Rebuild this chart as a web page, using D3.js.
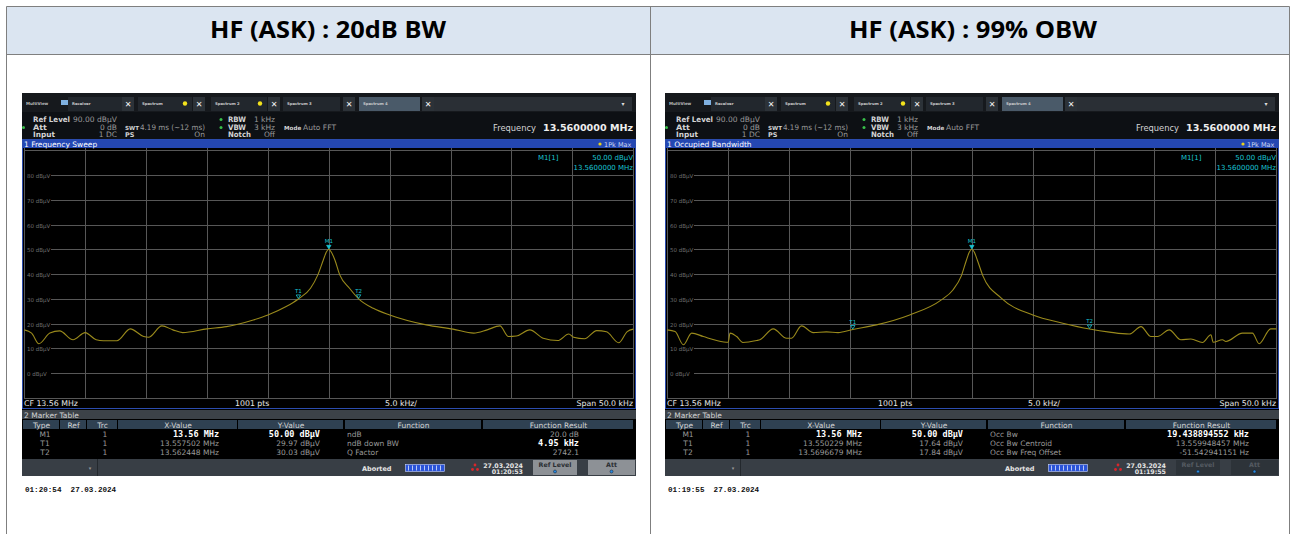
<!DOCTYPE html>
<html>
<head>
<meta charset="utf-8">
<script src="https://cdn.jsdelivr.net/npm/d3@7"></script>
<style>
  body { margin: 0; background: #fff; }
  svg { display: block; }
</style>
</head>
<body>
<div id="chart"></div>
<script>
// ---- data ----
var panelTitles = ["HF (ASK) : 20dB BW", "HF (ASK) : 99% OBW"];
var sweepTitles = ["1 Frequency Sweep", "1 Occupied Bandwidth"];
var yTicks = [80, 70, 60, 50, 40, 30, 20, 10, 0];

// trace: offset from CF 13.56 MHz in kHz, level in dBuV
var bwFreq  = [-25, -24.4, -23.8, -22.9, -22.1, -21.0, -20.0, -19.1, -18.5, -17.4, -16.3, -15.2, -14.8, -13.7, -12.8, -12.0, -10.0, -8.4, -6.2, -5.0, -3.5, -2.5, -1.5, -0.9, -0.45, -0.2, 0, 0.2, 0.5, 0.9, 1.7, 2.45, 3.65, 5.0, 8.0, 10.2, 11.9, 13.0, 14.05, 14.75, 15.4, 16.5, 17.6, 18.8, 19.7, 20.1, 21.0, 22.0, 22.8, 23.8, 24.5, 25];
var bwLevel = [17.5, 16.2, 11.9, 16.2, 17.1, 13.5, 16.4, 13.5, 13.1, 13.1, 17.9, 14.8, 14.5, 19.1, 17.5, 16.4, 17.9, 18.8, 21.5, 23.5, 26.9, 29.97, 34.3, 39.7, 45.7, 48.9, 50, 48.9, 45.7, 39.7, 34.3, 30.03, 26.2, 23.5, 19.5, 17.8, 16.2, 17.5, 19.1, 14.8, 15.0, 17.5, 14.1, 13.2, 15.8, 14.5, 13.9, 17.2, 16.7, 12.3, 16.8, 17.8];

var obwFreq  = [-25, -24.36, -23.68, -23.0, -22.04, -20.94, -20.0, -19.85, -19.3, -18.8, -17.66, -17.4, -16.3, -15.2, -14.8, -13.98, -13.02, -11.93, -10.98, -9.77, -7.83, -5.1, -2.5, -1.55, -0.86, -0.45, -0.2, 0, 0.2, 0.45, 0.91, 2.42, 5.01, 7.47, 9.67, 11.3, 12.93, 13.89, 14.71, 15.25, 16.21, 17.17, 17.99, 18.94, 19.63, 19.82, 20.58, 20.86, 22.22, 23.04, 23.59, 24.54, 25];
var obwLevel = [17.5, 16.8, 11.5, 16.2, 14.8, 13.2, 12.5, 16.2, 14.8, 12.4, 13.2, 13.5, 17.9, 14.1, 14.1, 19.1, 16.4, 16.7, 16.4, 17.64, 19.5, 23.5, 29.6, 33.6, 39.3, 45.5, 48.9, 50, 48.9, 45.7, 39.3, 30.3, 23.5, 20.2, 17.84, 16.6, 15.8, 18.8, 14.8, 14.8, 17.5, 13.5, 13.8, 12.4, 15.5, 12.5, 13.5, 12.8, 16.2, 16.2, 11.9, 17.9, 17.9];

var markerNames = ["M1", "T1", "T2"];
var bwMarkerFreq = [0, -2.498, 2.448];
var bwMarkerLevel = [50.00, 29.97, 30.03];
var obwMarkerFreq = [0, -9.771, 9.668];
var obwMarkerLevel = [50.00, 17.64, 17.84];

var bwXValues = ["13.56 MHz", "13.557502 MHz", "13.562448 MHz"];
var bwYValues = ["50.00 dBµV", "29.97 dBµV", "30.03 dBµV"];
var bwFunctions = ["ndB", "ndB down BW", "Q Factor"];
var bwResults = ["20.0 dB", "4.95 kHz", "2742.1"];
var obwXValues = ["13.56 MHz", "13.550229 MHz", "13.5696679 MHz"];
var obwYValues = ["50.00 dBµV", "17.64 dBµV", "17.84 dBµV"];
var obwFunctions = ["Occ Bw", "Occ Bw Centroid", "Occ Bw Freq Offset"];
var obwResults = ["19.438894552 kHz", "13.559948457 MHz", "-51.542941151 Hz"];

var footerStamps = ["01:20:54  27.03.2024", "01:19:55  27.03.2024"];
var statusTimes = ["01:20:53", "01:19:55"];

var panels = [
  {ox: 22, title: panelTitles[0], sweep: sweepTitles[0], freq: bwFreq, level: bwLevel,
   mFreq: bwMarkerFreq, mLevel: bwMarkerLevel, xv: bwXValues, yv: bwYValues, fn: bwFunctions,
   res: bwResults, boldRes: 1, resRight: 557, stamp: footerStamps[0], time: statusTimes[0], buttonsOn: true},
  {ox: 665, title: panelTitles[1], sweep: sweepTitles[1], freq: obwFreq, level: obwLevel,
   mFreq: obwMarkerFreq, mLevel: obwMarkerLevel, xv: obwXValues, yv: obwYValues, fn: obwFunctions,
   res: obwResults, boldRes: 0, resRight: 584, stamp: footerStamps[1], time: statusTimes[1], buttonsOn: false}
];

// ---- page ----
var W = 1293, H = 534;
var svg = d3.select("#chart").append("svg").attr("width", W).attr("height", H);

var SANS = "DejaVu Sans", MONO = "DejaVu Sans Mono";
var TXT = "#d4d4d4", DIM = "#9a9a9a", CYAN = "#19c3d2";

// outer word table
svg.append("rect").attr("x", 6.5).attr("y", 6.5).attr("width", 1283).attr("height", 48)
  .attr("fill", "#dbe5f1");
svg.append("g").attr("stroke", "#7f7f7f").attr("stroke-width", 1)
  .selectAll("line")
  .data([[6.5, 6.5, 1289.5, 6.5], [6.5, 54.5, 1289.5, 54.5], [6.5, 6.5, 6.5, 534],
         [650.5, 6.5, 650.5, 534], [1289.5, 6.5, 1289.5, 534]])
  .join("line")
  .attr("x1", d => d[0]).attr("y1", d => d[1]).attr("x2", d => d[2]).attr("y2", d => d[3]);

svg.selectAll("text.ttl").data(panels).join("text")
  .attr("class", "ttl")
  .attr("x", (d, i) => i === 0 ? 328 : 973).attr("y", 38)
  .attr("text-anchor", "middle")
  .attr("font-family", "Open Sans").attr("font-weight", "bold").attr("font-size", 23)
  .attr("textLength", (d, i) => i === 0 ? 236 : 248).attr("lengthAdjust", "spacingAndGlyphs")
  .attr("fill", "#000").text(d => d.title);

function txt(g, x, y, s, o) {
  o = o || {};
  var t = g.append("text").attr("x", x).attr("y", y).text(s)
    .attr("font-family", o.font || SANS).attr("font-size", o.size || 7.5)
    .attr("font-weight", o.bold ? "bold" : null)
    .attr("text-anchor", o.anchor || "start")
    .attr("fill", o.fill || TXT);
  if (o.len) t.attr("textLength", o.len).attr("lengthAdjust", "spacingAndGlyphs");
  return t;
}

function drawPanel(p) {
  var g = svg.append("g").attr("transform", "translate(" + p.ox + ",93)");

  // frame
  g.append("rect").attr("width", 614).attr("height", 383).attr("fill", "#000");

  // tab bar
  g.append("rect").attr("width", 614).attr("height", 19).attr("fill", "#16191d");
  txt(g, 4, 12, "MultiView", {size: 4, fill: "#bbb", bold: true});
  g.append("rect").attr("x", 39).attr("y", 7).attr("width", 7).attr("height", 5).attr("fill", "#7fb0e0");
  var tabs = [
    {label: "Receiver", x: 46, w: 54, sun: false, xb: 100},
    {label: "Spectrum", x: 116, w: 54, sun: true, xb: 171},
    {label: "Spectrum 2", x: 189, w: 56, sun: true, xb: 246},
    {label: "Spectrum 3", x: 261, w: 57, sun: false, xb: 321},
    {label: "Spectrum 4", x: 337, w: 61, sun: false, xb: 400, active: true}
  ];
  tabs.forEach(function(t) {
    g.append("rect").attr("x", t.x).attr("y", 4).attr("width", t.w).attr("height", 14)
      .attr("fill", t.active ? "#4a5a69" : "#22272d");
    txt(g, t.x + 4, 12, t.label, {size: 3.8, fill: "#ccc", bold: true});
    if (t.sun) {
      g.append("circle").attr("cx", t.x + t.w - 7).attr("cy", 10.5).attr("r", 2.2).attr("fill", "#f3e21c");
    }
    g.append("rect").attr("x", t.xb).attr("y", 4).attr("width", 12).attr("height", 14).attr("fill", "#2c3238");
    txt(g, t.xb + 6, 13.5, "✕", {size: 8, bold: true, anchor: "middle", fill: "#f2f2f2"});
  });
  g.append("rect").attr("x", 412).attr("y", 4).attr("width", 198).attr("height", 14).attr("fill", "#2a2f35");
  txt(g, 601, 13, "▾", {size: 6, fill: "#ddd", anchor: "middle"});

  // setup info
  g.append("rect").attr("y", 19).attr("width", 614).attr("height", 27).attr("fill", "#0d1014");
  txt(g, 11, 29, "Ref Level", {bold: true, len: 37});
  txt(g, 51, 29, "90.00 dBµV", {fill: DIM, len: 44});
  txt(g, 11, 37, "Att", {bold: true, len: 14});
  txt(g, 95, 37, "0 dB", {fill: DIM, anchor: "end"});
  txt(g, 11, 44, "Input", {bold: true, len: 22});
  txt(g, 95, 44, "1 DC", {fill: DIM, anchor: "end"});
  txt(g, 103, 37, "SWT", {bold: true, size: 5.6});
  txt(g, 118, 37, "4.19 ms (~12 ms)", {fill: DIM, len: 65});
  txt(g, 103, 44, "PS", {bold: true, size: 6.5});
  txt(g, 183, 44, "On", {fill: DIM, anchor: "end"});
  txt(g, 206, 29, "RBW", {bold: true, len: 18});
  txt(g, 253, 29, "1 kHz", {fill: DIM, anchor: "end"});
  txt(g, 206, 37, "VBW", {bold: true, len: 18});
  txt(g, 253, 37, "3 kHz", {fill: DIM, anchor: "end"});
  txt(g, 206, 44, "Notch", {bold: true, len: 23});
  txt(g, 253, 44, "Off", {fill: DIM, anchor: "end"});
  txt(g, 262, 37, "Mode", {bold: true, size: 5.6});
  txt(g, 281, 37, "Auto FFT", {fill: DIM, len: 33});
  [[1.5, 34.5], [199, 26.5], [199, 34.5]].forEach(function(c) {
    g.append("circle").attr("cx", c[0]).attr("cy", c[1]).attr("r", 1.5).attr("fill", "#39c04a");
  });
  txt(g, 514, 38, "Frequency", {size: 8.5, anchor: "end", len: 43});
  txt(g, 611, 38, "13.5600000 MHz", {size: 9.5, bold: true, anchor: "end", fill: "#eee", len: 90});

  // title bar
  g.append("rect").attr("y", 46).attr("width", 614).attr("height", 9).attr("fill", "#2447b2");
  txt(g, 2, 53.5, p.sweep, {size: 7.5, fill: "#fff"});
  g.append("circle").attr("cx", 578).attr("cy", 51).attr("r", 1.6).attr("fill", "#e8d21c");
  txt(g, 582, 53.5, "1Pk Max", {size: 6.5, fill: "#cfd8f0"});

  // diagram
  var x = d3.scaleLinear().domain([-25, 25]).range([2.3, 611.3]);
  var y = d3.scaleLinear().domain([-10, 90]).range([305, 57.2]);

  g.append("g").attr("stroke", "#575757").attr("stroke-width", 1)
    .selectAll("line.v").data(x.ticks(10)).join("line")
    .attr("x1", d => Math.round(x(d)) + 0.5).attr("x2", d => Math.round(x(d)) + 0.5)
    .attr("y1", 55).attr("y2", 305);
  g.append("g").attr("stroke", "#575757").attr("stroke-width", 1)
    .selectAll("line.h").data(y.ticks(10)).join("line")
    .attr("x1", 2).attr("x2", 612)
    .attr("y1", d => Math.round(y(d)) + 0.5).attr("y2", d => Math.round(y(d)) + 0.5);

  var lab = g.append("g").selectAll("g").data(yTicks).join("g")
    .attr("transform", d => "translate(3," + (Math.round(y(d)) + 0.5) + ")");
  lab.append("rect").attr("x", 0).attr("y", -3).attr("width", 26).attr("height", 6).attr("fill", "#000");
  lab.append("text").attr("x", 2).attr("y", 2).text(d => d + " dBµV")
    .attr("font-family", SANS).attr("font-size", 5.5).attr("fill", "#6e6e6e");

  var pts = d3.zip(p.freq, p.level);
  g.append("path").datum(pts)
    .attr("fill", "none").attr("stroke", "#9a8a1c").attr("stroke-width", 1.1)
    .attr("d", d3.line().x(d => x(d[0])).y(d => y(d[1])).curve(d3.curveMonotoneX));

  // markers
  markerNames.forEach(function(m, i) {
    var mx = x(p.mFreq[i]), my = y(p.mLevel[i]);
    g.append("path")
      .attr("d", "M" + (mx - 2.2) + "," + (my - 4) + "L" + (mx + 2.2) + "," + (my - 4) + "L" + mx + "," + (my - 0.5) + "Z")
      .attr("fill", i === 0 ? CYAN : "none").attr("stroke", CYAN).attr("stroke-width", 0.8);
    txt(g, mx, my - 6, m, {size: 5.5, anchor: "middle", fill: CYAN});
  });

  txt(g, 516, 67, "M1[1]", {size: 7, fill: CYAN});
  txt(g, 611, 67, "50.00 dBµV", {size: 7, fill: CYAN, anchor: "end"});
  txt(g, 611, 77, "13.5600000 MHz", {size: 7, fill: CYAN, anchor: "end"});

  // bottom scale line
  txt(g, 2, 313, "CF 13.56 MHz", {size: 7.8, fill: "#e8e8e8"});
  txt(g, 213, 313, "1001 pts", {size: 7.8, fill: "#e8e8e8"});
  txt(g, 363, 313, "5.0 kHz/", {size: 7.8, fill: "#e8e8e8"});
  txt(g, 611, 313, "Span 50.0 kHz", {size: 7.8, fill: "#e8e8e8", anchor: "end"});
  g.append("rect").attr("x", 0.5).attr("y", 46.5).attr("width", 613).attr("height", 269)
    .attr("fill", "none").attr("stroke", "#2b4cae").attr("stroke-width", 1);

  // marker table
  g.append("rect").attr("y", 317).attr("width", 614).attr("height", 9).attr("fill", "#3c4248");
  txt(g, 2, 324.5, "2 Marker Table", {size: 7.5});
  var cols = [
    {label: "Type", x: 1, w: 37}, {label: "Ref", x: 38, w: 27}, {label: "Trc", x: 65, w: 31},
    {label: "X-Value", x: 96, w: 120}, {label: "Y-Value", x: 216, w: 106},
    {label: "Function", x: 323, w: 137}, {label: "Function Result", x: 461, w: 151}
  ];
  cols.forEach(function(c) {
    g.append("rect").attr("x", c.x).attr("y", 327).attr("width", c.w - 1).attr("height", 9).attr("fill", "#2f4152");
    txt(g, c.x + c.w / 2, 334.5, c.label, {size: 7.5, anchor: "middle"});
  });
  var rowY = [344, 353, 362];
  markerNames.forEach(function(m, i) {
    var ry = rowY[i], b = i === 0;
    txt(g, 23, ry, m, {size: 7.5, anchor: "middle", fill: DIM});
    txt(g, 83, ry, "1", {size: 7.5, anchor: "middle", fill: DIM});
    txt(g, 197, ry, p.xv[i], b ? {size: 8.5, font: MONO, bold: true, anchor: "end", fill: "#fff"} : {size: 7.5, anchor: "end", fill: DIM});
    txt(g, 298, ry, p.yv[i], b ? {size: 8.5, font: MONO, bold: true, anchor: "end", fill: "#fff"} : {size: 7.5, anchor: "end", fill: DIM});
    txt(g, 325, ry, p.fn[i], {size: 7.5, fill: DIM});
    var rb = i === p.boldRes;
    txt(g, p.resRight, ry, p.res[i], rb ? {size: 8.5, font: MONO, bold: true, anchor: "end", fill: "#fff"} : {size: 7.5, anchor: "end", fill: DIM});
  });

  // status bar
  g.append("rect").attr("y", 366).attr("width", 614).attr("height", 17).attr("fill", "#383e45");
  g.append("rect").attr("x", 75).attr("y", 366).attr("width", 1).attr("height", 17).attr("fill", "#23282d");
  txt(g, 68, 377, "▾", {size: 5, fill: "#999", anchor: "middle"});
  txt(g, 340, 378, "Aborted", {size: 6.5, bold: true, fill: "#e6e6e6"});
  g.append("rect").attr("x", 383.5).attr("y", 371.5).attr("width", 39).attr("height", 7)
    .attr("fill", "#2b54d8").attr("stroke", "#c8d4ff").attr("stroke-width", 0.6);
  d3.range(9).forEach(function(k) {
    g.append("rect").attr("x", 386 + k * 4).attr("y", 372.5).attr("width", 0.8).attr("height", 5).attr("fill", "#dfe6ff");
  });
  [[453, 372], [450.5, 376.5], [455.5, 376.5]].forEach(function(c) {
    g.append("circle").attr("cx", c[0]).attr("cy", c[1]).attr("r", 1.4).attr("fill", "#d8262b");
  });
  txt(g, 501, 374.5, "27.03.2024", {size: 6.3, bold: true, anchor: "end", fill: "#e6e6e6"});
  txt(g, 501, 381, p.time, {size: 6.3, bold: true, anchor: "end", fill: "#e6e6e6"});
  [{label: "Ref Level", x: 511, w: 44}, {label: "Att", x: 566, w: 47}].forEach(function(bt) {
    g.append("rect").attr("x", bt.x).attr("y", 367).attr("width", bt.w).attr("height", 15)
      .attr("fill", p.buttonsOn ? "#8d9196" : "#2d3339");
    txt(g, bt.x + bt.w / 2, 374, bt.label, {size: 6.3, bold: true, anchor: "middle", fill: p.buttonsOn ? "#2a2e33" : "#555b62"});
    g.append("circle").attr("cx", bt.x + bt.w / 2).attr("cy", 378.5).attr("r", 1.5)
      .attr("fill", "#2a8ae0").attr("stroke", "#0b1d33").attr("stroke-width", 0.5);
  });

  // timestamp under screenshot
  g.append("text").attr("x", 3).attr("y", 399).text(p.stamp)
    .attr("font-family", "Liberation Mono").attr("font-weight", "bold").attr("font-size", 7.6)
    .attr("fill", "#111").style("white-space", "pre");
}

panels.forEach(drawPanel);
</script>
</body>
</html>
